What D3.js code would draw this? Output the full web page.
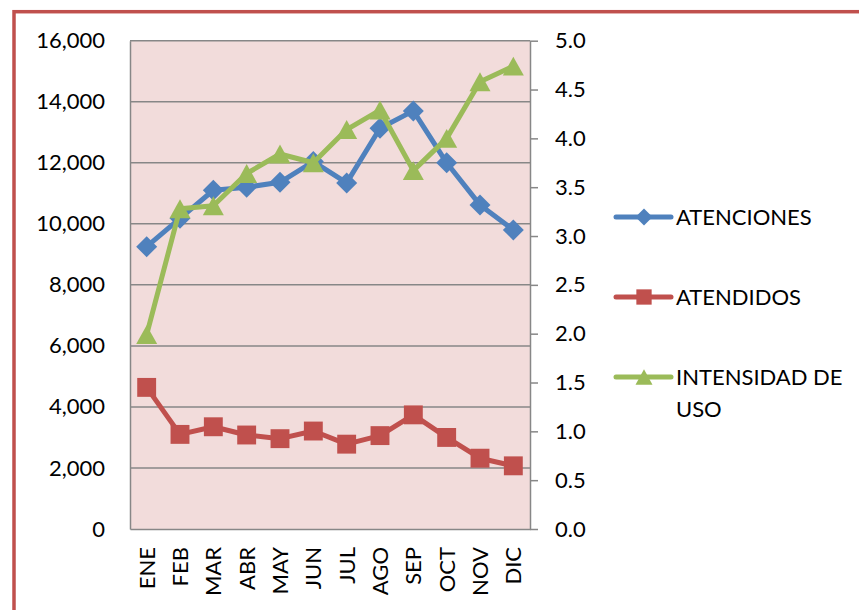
<!DOCTYPE html>
<html>
<head>
<meta charset="utf-8">
<script src="https://cdn.jsdelivr.net/npm/d3@7"></script>
<style>
  body { margin: 0; background: #fff; }
  svg text { font-family: Lato, "Open Sans", sans-serif; fill: #000; }
</style>
</head>
<body>
<script>
// ===================================================================

const MONTHS = ['ENE', 'FEB', 'MAR', 'ABR', 'MAY', 'JUN', 'JUL', 'AGO', 'SEP', 'OCT', 'NOV', 'DIC']

const ATENCIONES = [9250, 10180, 11100, 11200, 11360, 12040, 11340, 13130, 13700, 12000, 10620, 9800]
const ATENDIDOS = [4640, 3100, 3350, 3080, 2960, 3210, 2780, 3060, 3740, 3000, 2320, 2070]
const INTENSIDAD = [1.99, 3.28, 3.31, 3.64, 3.84, 3.75, 4.09, 4.29, 3.67, 4.00, 4.58, 4.74]

const LEFT_TICKS = [0, 2000, 4000, 6000, 8000, 10000, 12000, 14000, 16000]
const RIGHT_TICKS = [0, 0.5, 1, 1.5, 2, 2.5, 3, 3.5, 4, 4.5, 5]

const SERIES_NAMES = ['ATENCIONES', 'ATENDIDOS', 'INTENSIDAD DE USO']

// ===================================================================

const WIDTH = 859
const HEIGHT = 610

const PLOT = { left: 130, top: 40.7, right: 530, bottom: 529 }

const FONT_SIZE = 22

const COLORS = ['#4F81BD', '#C0504D', '#9BBB59']

const markerPath = (shape, s) => {
  if (shape === 'diamond') return `M0,${-s}L${s},0L0,${s}L${-s},0Z`
  if (shape === 'square') return `M${-s * 0.9},${-s * 0.9}h${s * 1.8}v${s * 1.8}h${-s * 1.8}Z`
  return `M0,${-s * 0.9}L${s},${s * 0.9}L${-s},${s * 0.9}Z`
}
const SHAPES = ['diamond', 'square', 'triangle']

// ===================================================================

const svg = d3.select('body').append('svg')
  .attr('width', WIDTH)
  .attr('height', HEIGHT)

// Outer frame (runs off the right and bottom edges).
svg.append('rect')
  .attr('x', 14)
  .attr('y', 11.7)
  .attr('width', WIDTH + 20)
  .attr('height', HEIGHT + 20)
  .attr('fill', 'none')
  .attr('stroke', '#C0504D')
  .attr('stroke-width', 3.5)

const x = d3.scaleBand()
  .domain(MONTHS)
  .range([PLOT.left, PLOT.right])
const xc = m => x(m) + x.bandwidth() / 2

const yLeft = d3.scaleLinear()
  .domain([0, 16000])
  .range([PLOT.bottom, PLOT.top])
const yRight = d3.scaleLinear()
  .domain([0, 5])
  .range([PLOT.bottom, PLOT.top])

// Plot background.
svg.append('rect')
  .attr('x', PLOT.left)
  .attr('y', PLOT.top)
  .attr('width', PLOT.right - PLOT.left)
  .attr('height', PLOT.bottom - PLOT.top)
  .attr('fill', '#F2DCDB')

// Grid lines.
svg.append('g')
  .selectAll('line')
  .data(LEFT_TICKS.slice(1))
  .join('line')
    .attr('x1', PLOT.left)
    .attr('x2', PLOT.right)
    .attr('y1', d => yLeft(d))
    .attr('y2', d => yLeft(d))
    .attr('stroke', '#878787')
    .attr('stroke-width', 1.5)

// Left axis.
const leftAxis = svg.append('g')
  .attr('transform', `translate(${PLOT.left},0)`)
  .call(d3.axisLeft(yLeft).tickValues(LEFT_TICKS).tickSize(0).tickPadding(25)
    .tickFormat(d3.format(',')))
leftAxis.select('.domain').attr('stroke', '#878787').attr('stroke-width', 1.5)
leftAxis.selectAll('text').attr('font-size', FONT_SIZE).attr('font-family', null)

// Right axis.
const rightAxis = svg.append('g')
  .attr('transform', `translate(${PLOT.right},0)`)
  .call(d3.axisRight(yRight).tickValues(RIGHT_TICKS).tickSizeOuter(0).tickSizeInner(8).tickPadding(17)
    .tickFormat(d3.format('.1f')))
rightAxis.select('.domain').attr('stroke', '#878787').attr('stroke-width', 1.5)
rightAxis.selectAll('.tick line').attr('stroke', '#878787').attr('stroke-width', 1.5)
rightAxis.selectAll('text').attr('font-size', FONT_SIZE).attr('font-family', null)

// Bottom axis.
const bottomAxis = svg.append('g')
  .attr('transform', `translate(0,${PLOT.bottom})`)
  .call(d3.axisBottom(x).tickSize(0).tickSizeOuter(0))
bottomAxis.select('.domain').attr('stroke', '#878787').attr('stroke-width', 1.5)
bottomAxis.selectAll('text')
  .attr('font-size', FONT_SIZE)
  .attr('font-family', null)
  .attr('transform', 'rotate(-90)')
  .attr('text-anchor', 'end')
  .attr('x', -18)
  .attr('y', 0)
  .attr('dy', '0.36em')

// ===================================================================

const series = [
  { values: ATENCIONES, y: yLeft },
  { values: ATENDIDOS, y: yLeft },
  { values: INTENSIDAD, y: yRight }
]

series.forEach((s, i) => {
  const pts = MONTHS.map((m, j) => [xc(m), s.y(s.values[j])])
  const g = svg.append('g')

  g.append('path')
    .datum(pts)
    .attr('d', d3.line())
    .attr('fill', 'none')
    .attr('stroke', COLORS[i])
    .attr('stroke-width', 5)
    .attr('stroke-linejoin', 'round')

  g.selectAll('path.marker')
    .data(pts)
    .join('path')
      .attr('class', 'marker')
      .attr('transform', d => `translate(${d[0]},${d[1]})`)
      .attr('d', markerPath(SHAPES[i], 10.5))
      .attr('fill', COLORS[i])
})

// ===================================================================

// Legend.
const LEGEND_Y = [217, 297, 377]

const legend = svg.append('g')
  .selectAll('g')
  .data(SERIES_NAMES)
  .join('g')
    .attr('transform', (d, i) => `translate(616,${LEGEND_Y[i]})`)

legend.append('line')
  .attr('x1', 0)
  .attr('x2', 55)
  .attr('stroke', (d, i) => COLORS[i])
  .attr('stroke-width', 5)
  .attr('stroke-linecap', 'round')

legend.append('path')
  .attr('transform', 'translate(28,0)')
  .attr('d', (d, i) => markerPath(SHAPES[i], 8.5))
  .attr('fill', (d, i) => COLORS[i])

legend.append('text')
  .attr('x', 60)
  .attr('font-size', FONT_SIZE)
  .selectAll('tspan')
  .data(d => d === 'INTENSIDAD DE USO' ? ['INTENSIDAD DE', 'USO'] : [d])
  .join('tspan')
    .attr('x', 60)
    .attr('dy', (d, i) => i === 0 ? '0.36em' : 32)
    .text(d => d)
</script>
</body>
</html>
